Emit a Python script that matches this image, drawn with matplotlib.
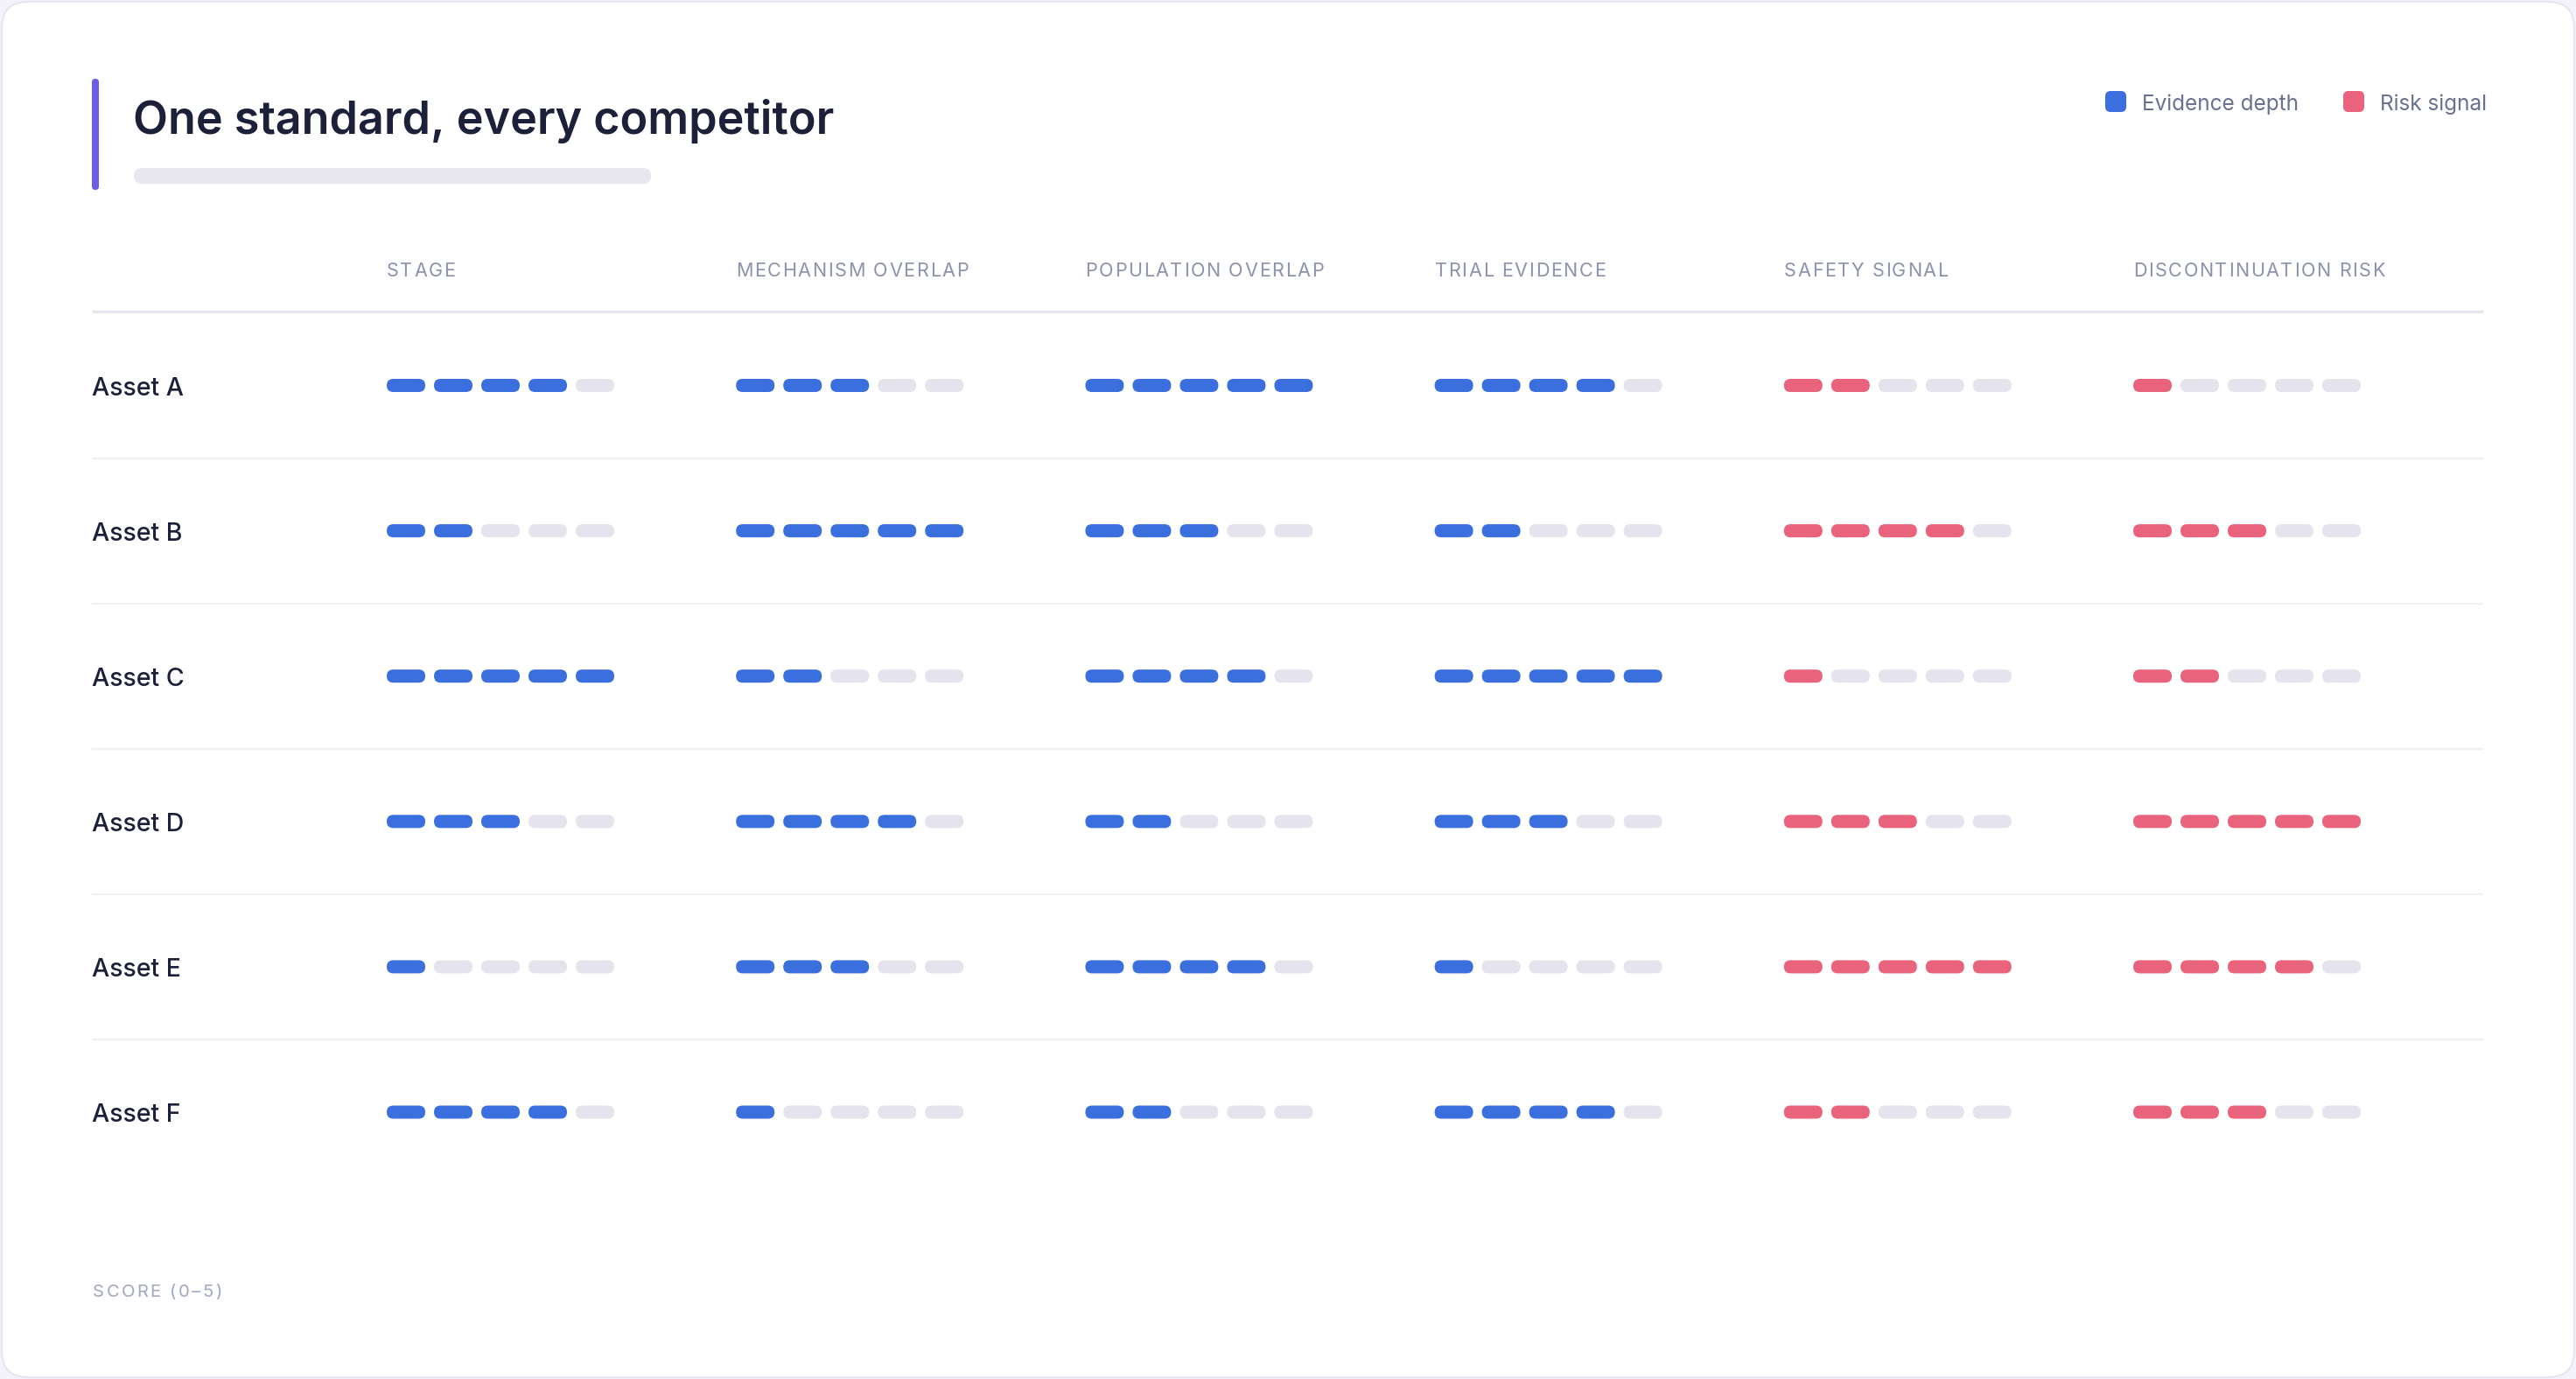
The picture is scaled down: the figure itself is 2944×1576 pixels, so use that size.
import matplotlib

matplotlib.use("Agg")
import matplotlib.pyplot as plt
from matplotlib.patches import FancyBboxPatch

# data
assets = ["Asset A", "Asset B", "Asset C", "Asset D", "Asset E", "Asset F"]
criteria = [
    "STAGE",
    "MECHANISM OVERLAP",
    "POPULATION OVERLAP",
    "TRIAL EVIDENCE",
    "SAFETY SIGNAL",
    "DISCONTINUATION RISK",
]
criterion_kind = ["evidence", "evidence", "evidence", "evidence", "risk", "risk"]
stage = [4, 2, 5, 3, 1, 4]
mechanism_overlap = [3, 5, 2, 4, 3, 1]
population_overlap = [5, 3, 4, 2, 4, 2]
trial_evidence = [4, 2, 5, 3, 1, 4]
safety_signal = [2, 4, 1, 3, 5, 2]
discontinuation_risk = [1, 3, 2, 5, 4, 3]
max_score = 5

scores = [
    stage,
    mechanism_overlap,
    population_overlap,
    trial_evidence,
    safety_signal,
    discontinuation_risk,
]

# layout (pixel units, origin top-left)
W, H = 2944, 1576
LEFT, RIGHT = 105, 2838
COL_X0, COL_PITCH = 442, 399.2
SEG_W, SEG_H, SEG_PITCH = 44, 15, 54
ROW_Y0, ROW_PITCH = 440.5, 166.1
HEADER_LINE_Y = 356

BLUE = "#3B6FDE"
RED = "#E8637B"
EMPTY = "#E4E3EE"
INK = "#1C2039"
MUTED = "#8C92AD"
FONT = ["Inter", "DejaVu Sans"]

fig = plt.figure(figsize=(W / 100, H / 100), dpi=100, facecolor="#F3F3F9")
ax = fig.add_axes([0, 0, 1, 1])
ax.set_xlim(0, W)
ax.set_ylim(H, 0)
ax.axis("off")

renderer = fig.canvas.get_renderer()


def rounded(x, y, w, h, r, color, **kw):
    p = FancyBboxPatch(
        (x + r, y + r),
        max(w - 2 * r, 0.01),
        max(h - 2 * r, 0.01),
        boxstyle=f"round,pad={r}",
        facecolor=color,
        edgecolor="none",
        **kw,
    )
    ax.add_patch(p)
    return p


def tracked_text(x, y, s, tracking, **kw):
    """Draw text char by char with extra letter spacing (pixels)."""
    for ch in s:
        t = ax.text(x, y, ch, **kw)
        if ch == " ":
            probe = ax.text(0, 0, "I I", **kw)
            w = probe.get_window_extent(renderer).width
            probe.remove()
            probe = ax.text(0, 0, "II", **kw)
            w -= probe.get_window_extent(renderer).width
            probe.remove()
        else:
            w = t.get_window_extent(renderer).width
        x += w + tracking


# card
card = FancyBboxPatch(
    (2 + 30, 2 + 30),
    W - 4 - 60,
    H - 4 - 60,
    boxstyle="round,pad=30",
    facecolor="white",
    edgecolor="#E6E6F1",
    linewidth=1.5,
)
ax.add_patch(card)

# title block
rounded(105, 90, 8, 127, 4, "#6C5CE7")
ax.text(
    152, 153, "One standard, every competitor",
    fontsize=37.5, fontweight="semibold", color=INK, family=FONT, va="baseline",
)
rounded(153, 192, 591, 18, 9, "#E8E7F0")

# legend
for x, color, label in [(2406, BLUE, "Evidence depth"), (2678, RED, "Risk signal")]:
    rounded(x, 104, 24, 24, 6, color)
    ax.text(x + 42, 126, label, fontsize=17.5, color="#6A7090", family=FONT,
            va="baseline")

# column headers
for j, name in enumerate(criteria):
    tracked_text(
        COL_X0 + j * COL_PITCH, 316, name, 1.7,
        fontsize=15.5, color=MUTED, family=FONT, va="baseline",
    )
ax.plot([LEFT, RIGHT], [HEADER_LINE_Y, HEADER_LINE_Y], color="#E6E6EF", lw=2.2,
        solid_capstyle="butt")

# rows
for i, asset in enumerate(assets):
    yc = ROW_Y0 + i * ROW_PITCH
    ax.text(LEFT, yc + 11, asset, fontsize=20.5, fontweight="medium", color=INK,
            family=FONT, va="baseline")
    for j, col in enumerate(scores):
        fill = BLUE if criterion_kind[j] == "evidence" else RED
        for k in range(max_score):
            x = COL_X0 + j * COL_PITCH + k * SEG_PITCH
            rounded(x, yc - SEG_H / 2, SEG_W, SEG_H, SEG_H / 2,
                    fill if k < col[i] else EMPTY)
    if i < len(assets) - 1:
        ly = yc + ROW_PITCH / 2
        ax.plot([LEFT, RIGHT], [ly, ly], color="#EFEFF5", lw=1.6,
                solid_capstyle="butt")

# footer
tracked_text(106, 1482, "SCORE (0–5)", 2.4, fontsize=14.5, color="#A2A7C0",
             family=FONT, va="baseline")

fig.savefig("out.png", dpi=100, facecolor=fig.get_facecolor())
